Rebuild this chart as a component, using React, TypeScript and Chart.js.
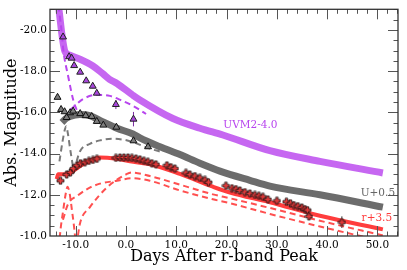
import React, { useEffect, useRef } from 'react';
import { Chart, registerables } from 'chart.js';
Chart.register(...registerables);

const FONT = '"DejaVu Serif", serif';

// ---------- observed photometry ----------
const uvm2Days = [-12.5, -11.3, -10.8, -10.3, -9.1, -7.9, -6.6, -5.8, -2.0, 1.5];
const uvm2Mags = [-19.66, -18.70, -18.63, -18.27, -17.95, -17.53, -17.27, -16.93, -16.38, -15.67];
const uvm2Errs = [0.08, 0.08, 0.08, 0.08, 0.08, 0.1, 0.1, 0.1, 0.22, 0.35];

const uDays = [-13.6, -12.9, -12.2, -11.8, -11.1, -10.5, -9.1, -8.0, -6.8, -5.8, -4.5, -1.9, 1.5, 4.4];
const uMags = [-16.73, -16.14, -16.03, -15.75, -15.98, -16.06, -15.94, -15.84, -15.80, -15.56, -15.38, -15.28, -14.62, -14.33];
const uErrs = [0.06, 0.06, 0.06, 0.06, 0.06, 0.06, 0.06, 0.06, 0.06, 0.06, 0.06, 0.06, 0.08, 0.08];

const rDays = [-13.02, -11.79, -11.03, -10.44, -9.74, -9.05, -8.15, -7.36, -6.56, -5.77,
  -1.99, -1.19, -0.40, 0.40, 1.19, 1.99, 2.78, 3.58, 4.37, 5.17, 5.96,
  8.15, 8.95, 9.74,
  11.93, 12.72, 13.72, 14.71, 15.71, 16.40,
  19.88, 21.07, 21.87, 22.66, 23.66, 24.65, 25.65, 26.44, 27.24, 28.23,
  30.02, 31.91, 32.70, 33.40, 34.19, 34.99, 35.59, 36.08, 36.38, 42.94];
const rMags = [-12.68, -12.98, -13.09, -13.27, -13.43, -13.53, -13.58, -13.64, -13.69, -13.74,
  -13.79, -13.81, -13.81, -13.81, -13.79, -13.76, -13.72, -13.65, -13.60, -13.53, -13.48,
  -13.43, -13.34, -13.27,
  -13.06, -12.98, -12.91, -12.82, -12.72, -12.61,
  -12.44, -12.32, -12.28, -12.21, -12.13, -12.06, -11.99, -11.95, -11.90, -11.78,
  -11.71, -11.66, -11.59, -11.50, -11.45, -11.38, -11.31, -11.26, -10.95, -10.67];
const rErrs = [0.05, 0.04, 0.04, 0.04, 0.04, 0.04, 0.04, 0.04, 0.04, 0.04,
  0.04, 0.04, 0.04, 0.04, 0.04, 0.04, 0.04, 0.04, 0.04, 0.04, 0.04,
  0.04, 0.04, 0.04,
  0.04, 0.04, 0.04, 0.04, 0.04, 0.04,
  0.04, 0.04, 0.04, 0.04, 0.04, 0.04, 0.04, 0.04, 0.04, 0.04,
  0.04, 0.04, 0.04, 0.04, 0.04, 0.04, 0.04, 0.04, 0.15, 0.28];

// ---------- model curves ----------
const uvm2ModelDays = [-13.72, -13.32, -12.72, -12.13, -11.13, -9.15, -6.56, -4.57, -3.18, -1.79, 1.39, 2.78, 9.34, 14.71, 19.28, 28.63, 38.57, 51.09];
const uvm2ModelMags = [-21.65, -20.99, -19.76, -18.96, -18.77, -18.58, -18.25, -17.87, -17.59, -17.40, -16.83, -16.60, -15.70, -15.23, -14.90, -14.14, -13.62, -13.06];
const uvm2CoolDays = [-13.72, -13.32, -12.72, -12.47, -11.47, -10.48, -9.74];
const uvm2CoolMags = [-21.65, -20.99, -19.76, -19.06, -17.73, -16.60, -16.08];
const uvm2HeatDays = [-11.8, -11.3, -10.1, -8.5, -5.8, -3.2, -0.9, 1.5, 2.8, 4.0];
const uvm2HeatMags = [-15.70, -16.02, -16.33, -16.65, -16.85, -16.80, -16.58, -16.30, -16.11, -15.92];

const uModelDays = [-12.72, -11.93, -11.13, -9.15, -7.16, -5.17, -1.79, 1.39, 2.78, 6.76, 10.74, 14.71, 18.69, 24.65, 28.63, 38.57, 51.09];
const uModelMags = [-15.51, -15.70, -15.80, -15.89, -15.84, -15.61, -15.23, -14.95, -14.76, -14.33, -13.95, -13.53, -13.15, -12.70, -12.42, -12.00, -11.40];
const uCoolDays = [-13.22, -12.62, -12.13, -11.89, -11.53, -11.13, -10.64, -10.34];
const uCoolMags = [-13.62, -14.57, -15.18, -15.32, -14.95, -14.28, -13.53, -13.06];
const uHeatDays = [-10.34, -9.15, -7.16, -5.17, -2.58, -0.20, 1.79, 4.77, 6.76];
const uHeatMags = [-13.15, -14.10, -14.47, -14.64, -14.72, -14.66, -14.52, -14.24, -14.10];

const rModelDays = [-13.78, -13.46, -11.79, -9.15, -6.56, -5.17, -2.19, 0.80, 4.77, 10.74, 17.30, 20.68, 28.63, 38.57, 51.09];
const rModelMags = [-12.76, -13.00, -13.00, -13.39, -13.72, -13.81, -13.76, -13.62, -13.48, -13.01, -12.39, -12.11, -11.64, -10.98, -10.32];
const rCoolDays = [-13.30, -13.12, -12.52, -11.93, -11.63, -11.23, -10.74, -10.14, -9.95];
const rCoolMags = [-9.40, -10.03, -11.17, -12.11, -12.39, -12.11, -11.26, -10.03, -9.40];
const rHeatDays = [-9.54, -9.15, -7.16, -3.78, 0.20, 1.19, 4.77, 10.74, 17.30, 20.68, 28.63, 38.57, 51.09];
const rHeatMags = [-10.03, -10.60, -11.40, -12.35, -13.01, -13.08, -12.91, -12.49, -12.02, -11.83, -11.36, -10.74, -10.03];
const rThirdDays = [-12.52, -11.53, -9.54, -7.55, -5.17, -1.79, 1.19, 4.77, 10.74, 17.30, 20.68, 28.63, 38.57, 51.09];
const rThirdMags = [-10.79, -11.54, -11.97, -12.30, -12.54, -12.68, -12.80, -12.68, -12.21, -11.78, -11.59, -11.07, -10.46, -9.75];

// ---------- axes & labels ----------
const xMajorTicks = [-10, 0, 10, 20, 30, 40, 50];
const yMajorTicks = [-20, -18, -16, -14, -12, -10];
const seriesLabels = ['UVM2-4.0', 'U+0.5', 'r+3.5'];
const labelDays = [24.75, 50.1, 49.9];
const labelMags = [-15.37, -12.08, -10.86];

const PURPLE = '#b845ee';
const RED = '#ff3d3d';

const pts = (d: number[], m: number[]) => d.map((v, i) => ({ x: v, y: m[i] }));

function makePlus(fill: string, stroke: string) {
  const c = document.createElement('canvas');
  c.width = 9; c.height = 9;
  const g = c.getContext('2d')!;
  const cx = 4.5, cy = 4.5, L = 3.5, w = 1.25;
  const p = [[cx - w, cy - L], [cx + w, cy - L], [cx + w, cy - w], [cx + L, cy - w], [cx + L, cy + w], [cx + w, cy + w],
    [cx + w, cy + L], [cx - w, cy + L], [cx - w, cy + w], [cx - L, cy + w], [cx - L, cy - w], [cx - w, cy - w]];
  g.beginPath();
  p.forEach(([a, b], i) => (i ? g.lineTo(a, b) : g.moveTo(a, b)));
  g.closePath();
  g.fillStyle = fill; g.fill();
  g.lineWidth = 0.8; g.strokeStyle = stroke; g.stroke();
  return c;
}

const errorBars = {
  id: 'errorBars',
  beforeDatasetsDraw(chart: any) {
    const { ctx, scales } = chart;
    ctx.save();
    chart.data.datasets.forEach((ds: any) => {
      if (!ds.errors) return;
      ctx.strokeStyle = ds.errColor; ctx.lineWidth = 1;
      ds.data.forEach((p: any, i: number) => {
        const e = ds.errors[i];
        const x = scales.x.getPixelForValue(p.x);
        ctx.beginPath();
        ctx.moveTo(x, scales.y.getPixelForValue(p.y - e));
        ctx.lineTo(x, scales.y.getPixelForValue(p.y + e));
        ctx.stroke();
      });
    });
    ctx.restore();
  },
};

const frameTicks = {
  id: 'frameTicks',
  afterDraw(chart: any) {
    const { ctx, chartArea: a, scales } = chart;
    ctx.save();
    ctx.strokeStyle = '#555';
    ctx.lineWidth = 1;
    const MAJ = 10, MIN = 4.5;
    const xs: [number, number][] = [];
    for (let v = -14; v <= 54; v += 2) xs.push([v, xMajorTicks.includes(v) ? MAJ : MIN]);
    const ys: [number, number][] = [];
    for (let v = -21; v <= -10; v += 0.5) ys.push([v, yMajorTicks.includes(v) ? MAJ : MIN]);
    ctx.beginPath();
    xs.forEach(([v, l]) => {
      const x = Math.round(scales.x.getPixelForValue(v)) + 0.5;
      if (x < a.left || x > a.right) return;
      ctx.moveTo(x, a.bottom); ctx.lineTo(x, a.bottom - l);
      ctx.moveTo(x, a.top); ctx.lineTo(x, a.top + l);
    });
    ys.forEach(([v, l]) => {
      const y = Math.round(scales.y.getPixelForValue(v)) + 0.5;
      if (y < a.top || y > a.bottom) return;
      ctx.moveTo(a.left, y); ctx.lineTo(a.left + l, y);
      ctx.moveTo(a.right, y); ctx.lineTo(a.right - l, y);
    });
    ctx.stroke();
    ctx.lineWidth = 1.3;
    ctx.strokeStyle = '#333';
    ctx.strokeRect(a.left, a.top, a.right - a.left, a.bottom - a.top);
    ctx.restore();
  },
};

const seriesText = {
  id: 'seriesText',
  afterDatasetsDraw(chart: any) {
    const { ctx, scales } = chart;
    const colors = [PURPLE, '#666666', RED];
    ctx.save();
    ctx.font = `10.5px ${FONT}`;
    ctx.textAlign = 'center';
    ctx.textBaseline = 'middle';
    seriesLabels.forEach((t, i) => {
      ctx.fillStyle = colors[i];
      ctx.fillText(t, scales.x.getPixelForValue(labelDays[i]), scales.y.getPixelForValue(labelMags[i]));
    });
    ctx.restore();
  },
};

export default function App() {
  const ref = useRef<HTMLCanvasElement>(null);
  useEffect(() => {
    if (!ref.current) return;
    const plus = makePlus('#e83a3a', '#111');
    const line = (d: number[], m: number[], color: string, width: number, dash: number[] | undefined, order: number) => ({
      data: pts(d, m),
      showLine: true,
      borderColor: color,
      borderWidth: width,
      borderDash: dash || [],
      pointRadius: 0,
      cubicInterpolationMode: 'monotone',
      fill: false,
      order,
    });
    const chart = new Chart(ref.current, {
      type: 'scatter',
      data: {
        datasets: [
          { data: pts(uvm2Days, uvm2Mags), errors: uvm2Errs, errColor: '#7a2aa0', pointStyle: 'triangle', pointRadius: 4,
            backgroundColor: '#a846dc', borderColor: '#222', borderWidth: 1, order: 0 } as any,
          { data: pts(uDays, uMags), errors: uErrs, errColor: '#222', pointStyle: 'triangle', pointRadius: 4,
            backgroundColor: '#7d7d7d', borderColor: '#111', borderWidth: 1, order: 0 } as any,
          { data: pts(rDays, rMags), errors: rErrs, errColor: '#222', pointStyle: plus, pointRadius: 4, order: 0 } as any,
          line(uvm2ModelDays, uvm2ModelMags, 'rgba(186,70,238,0.82)', 7, undefined, 2),
          line(uvm2CoolDays, uvm2CoolMags, PURPLE, 2, [6, 4], 3),
          line(uvm2HeatDays, uvm2HeatMags, PURPLE, 2, [6, 4], 3),
          line(uModelDays, uModelMags, 'rgba(95,95,95,0.92)', 7, undefined, 2),
          line(uCoolDays, uCoolMags, '#7a7a7a', 2, [6, 4], 3),
          line(uHeatDays, uHeatMags, '#7a7a7a', 2, [6, 4], 3),
          line(rModelDays, rModelMags, RED, 4, undefined, 2),
          line(rCoolDays, rCoolMags, '#ff5050', 2, [6, 4], 3),
          line(rHeatDays, rHeatMags, '#ff5050', 2, [6, 4], 3),
          line(rThirdDays, rThirdMags, '#ff5050', 2, [6, 4], 3),
        ] as any,
      },
      options: {
        responsive: false,
        animation: false,
        events: [],
        layout: { padding: { top: 4, right: 9, left: 0, bottom: 0 } },
        plugins: { legend: { display: false }, tooltip: { enabled: false } },
        scales: {
          x: {
            type: 'linear', min: -15.1, max: 54.1,
            grid: { display: false, drawTicks: false }, border: { display: false },
            ticks: { stepSize: 10, includeBounds: false, autoSkip: false, maxRotation: 0, padding: 3,
              color: '#000', font: { family: FONT, size: 10.5 }, callback: (v: any) => Number(v).toFixed(1) },
            title: { display: true, text: 'Days After r-band Peak', color: '#000', font: { family: FONT, size: 16 },
              padding: { top: 0, bottom: 4 } },
            afterFit: (s: any) => { s.height = 34; },
          },
          y: {
            type: 'linear', min: -21, max: -10, reverse: true,
            grid: { display: false, drawTicks: false }, border: { display: false },
            ticks: { stepSize: 2, includeBounds: false, autoSkip: false, padding: 3,
              color: '#000', font: { family: FONT, size: 10.5 }, callback: (v: any) => Number(v).toFixed(1) },
            title: { display: true, text: 'Abs. Magnitude', color: '#000', font: { family: FONT, size: 16 },
              padding: { top: 2, bottom: 0 } },
            afterFit: (s: any) => { s.width = 50; },
          },
        },
      } as any,
      plugins: [errorBars, seriesText, frameTicks],
    });
    return () => chart.destroy();
  }, []);
  return (
    <div style={{ position: 'absolute', left: 0, top: 0, width: 407, height: 270, background: '#fff' }}>
      <canvas ref={ref} width={407} height={270} style={{ display: 'block', width: 407, height: 270 }} />
    </div>
  );
}
